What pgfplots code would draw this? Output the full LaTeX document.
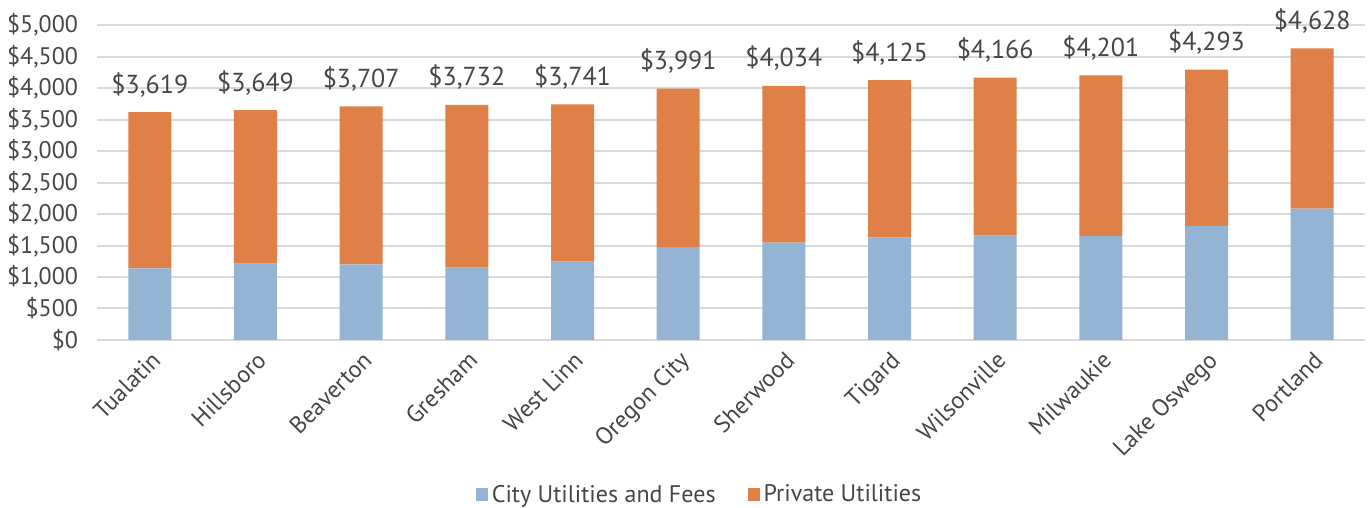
\documentclass[border=0pt]{standalone}
\usepackage{pgfplots}
\pgfplotsset{compat=1.18}
\usepackage{pgfplotstable}
\usepackage{fontspec}
\setmainfont{PT Sans}

\definecolor{cityblue}{RGB}{149,179,210}
\definecolor{privorange}{RGB}{223,128,72}
\definecolor{gridgray}{RGB}{217,217,217}
\definecolor{txtgray}{RGB}{70,70,70}

% city utilities + private utilities = total annual cost
\pgfplotstableread{
x city private total
0  1138 2481 3619
1  1212 2437 3649
2  1201 2506 3707
3  1148 2584 3732
4  1243 2498 3741
5  1476 2515 3991
6  1545 2489 4034
7  1624 2501 4125
8  1656 2510 4166
9  1651 2550 4201
10 1810 2483 4293
11 2085 2543 4628
}\costs

\pgfplotsset{common/.style={
    scale only axis,
    width=634pt, height=157.5pt,
    xmin=-0.5, xmax=11.5,
    ymin=0, ymax=5000,
    clip=false,
    /pgf/number format/.cd, fixed, precision=0, 1000 sep={,}, assume math mode=true,
    /pgfplots/.cd,
}}

\begin{document}
\begin{tikzpicture}
\useasboundingbox (-48.5pt,-84pt) rectangle (637.5pt,170pt);
\begin{axis}[
    common,
    ybar stacked, bar width=21.5pt,
    ytick distance=500,
    xtick={0,...,11},
    xticklabels={Tualatin,Hillsboro,Beaverton,Gresham,West Linn,Oregon City,Sherwood,Tigard,Wilsonville,Milwaukie,Lake Oswego,Portland},
    x tick label style={rotate=45, anchor=north east, font=\fontsize{12}{14}\selectfont, color=txtgray},
    yticklabel={\$\pgfmathprintnumber{\tick}},
    y tick label style={font=\fontsize{12}{14}\selectfont, color=txtgray, xshift=-6pt},
    major tick length=0pt,
    axis line style={draw=none},
    ymajorgrids,
    grid style={gridgray, line width=1pt},
    legend style={draw=none, at={(0.476,-0.492)}, anchor=center, legend columns=2,
        font=\fontsize{12}{14}\selectfont, text=txtgray,
        /tikz/every even column/.append style={column sep=14pt}},
    legend image code/.code={\fill[#1] (0pt,-3.2pt) rectangle (6pt,3.6pt);},
]
\addplot[fill=cityblue, draw=none] table[x=x, y=city] {\costs};
\addlegendentry{City Utilities and Fees}
\addplot[fill=privorange, draw=none] table[x=x, y=private] {\costs};
\addlegendentry{Private Utilities}
\end{axis}

% totals above the bars, on a matching overlay axis
\begin{axis}[common, hide axis]
\addplot[draw=none, mark=none,
    point meta=explicit,
    nodes near coords={\$\pgfmathprintnumber{\pgfplotspointmeta}},
    every node near coord/.append style={font=\fontsize{13}{15}\selectfont, color=txtgray,
        anchor=south, yshift=4pt}
    ] table[x=x, y=total, meta=total] {\costs};
\end{axis}
\end{tikzpicture}
\end{document}
